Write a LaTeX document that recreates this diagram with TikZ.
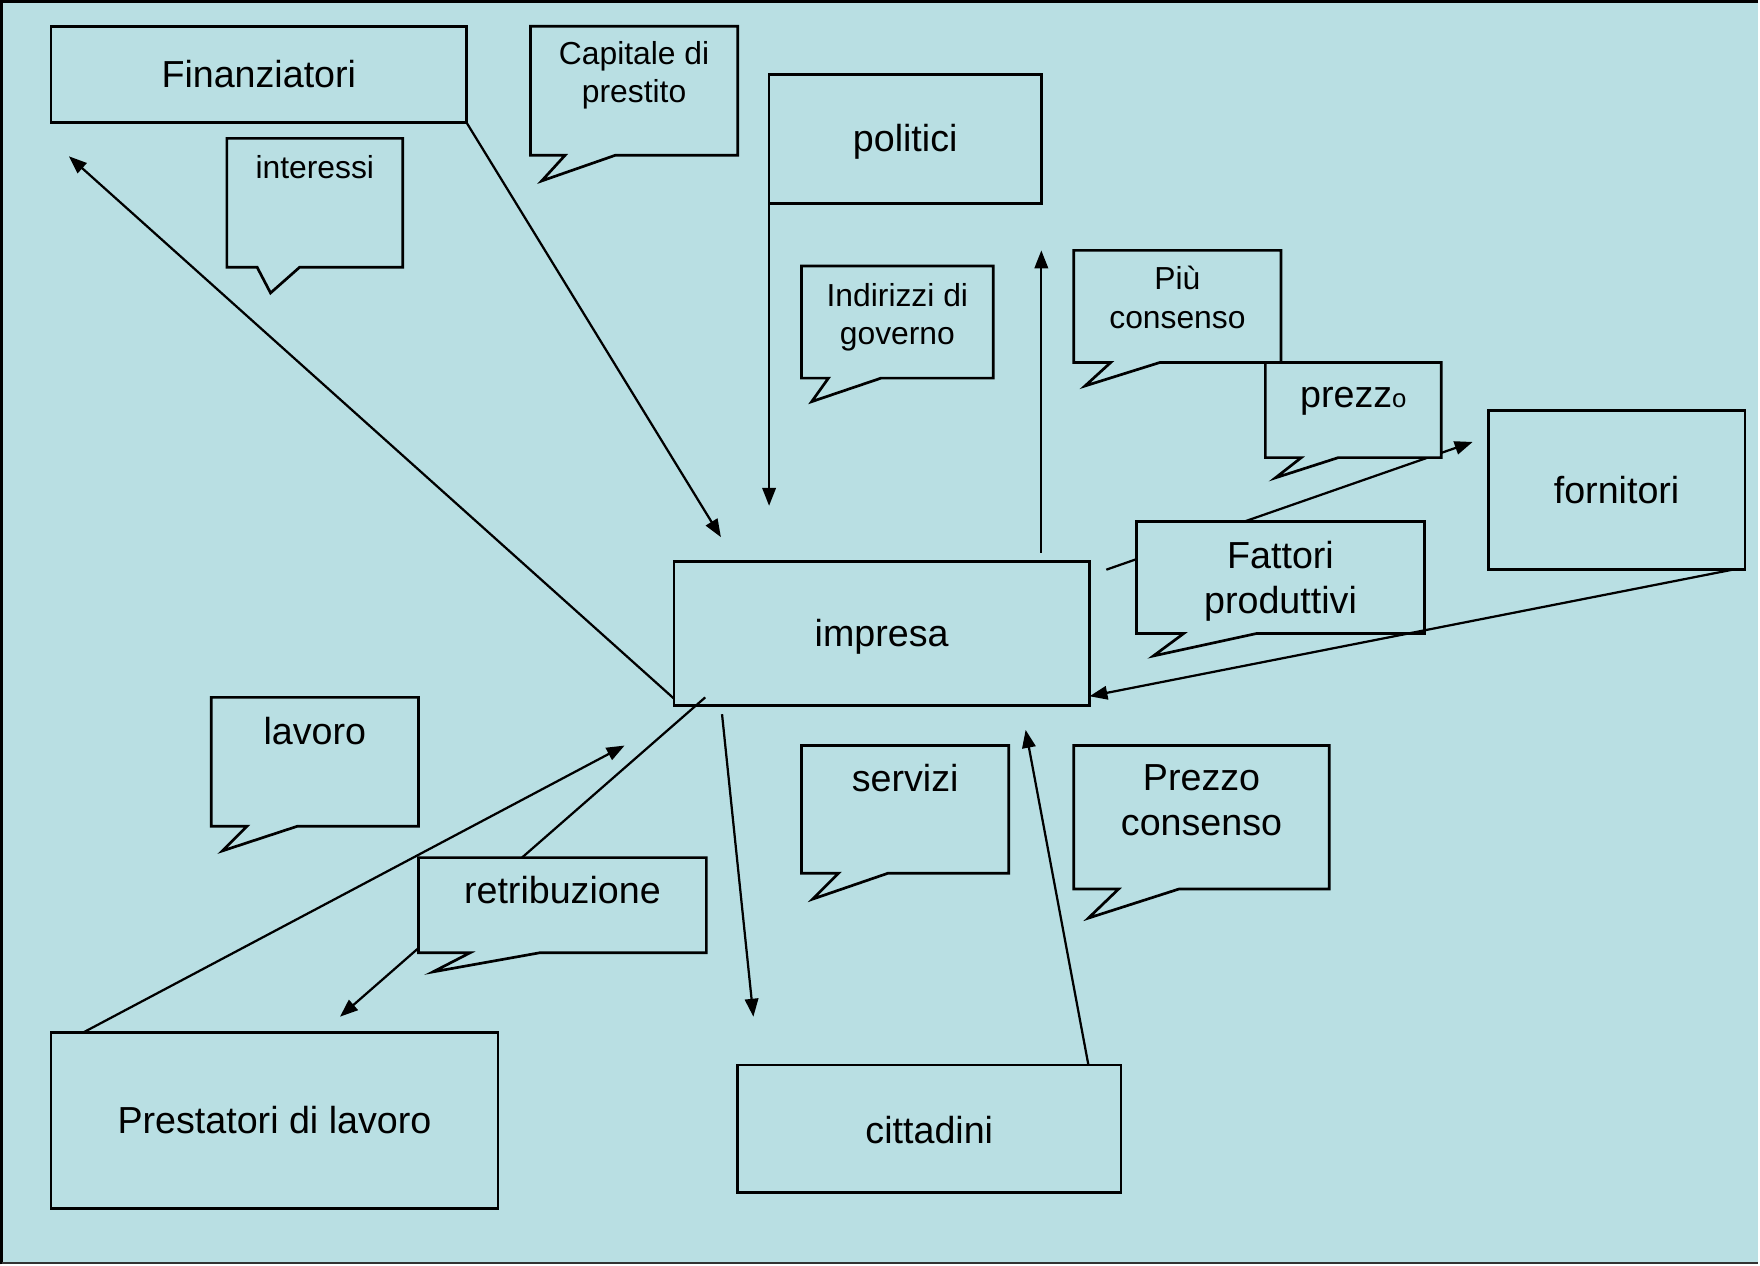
\documentclass[tikz,border=0pt]{standalone}
\usepackage{fontspec}
\setmainfont{Liberation Sans}
\usetikzlibrary{calc,arrows.meta}
\pgfdeclarelayer{back}
\pgfdeclarelayer{under}
\pgfsetlayers{back,under,main}
\definecolor{bgblue}{RGB}{185,223,227}
\tikzset{
  box/.style={draw, line width=1.2pt, fill=bgblue, inner sep=0pt, outer sep=0pt},
  cbox/.style={fill=bgblue, inner sep=0pt, outer sep=0pt},
  cline/.style={draw, line width=1.2pt, fill=bgblue, line join=miter},
  big/.style={font=\fontsize{16.8}{20}\selectfont, align=center},
  small/.style={font=\fontsize{14.2}{17}\selectfont, align=center, inner sep=0pt},
  bigt/.style={font=\fontsize{16.8}{20}\selectfont, align=center, inner sep=0pt},
  arr/.style={line width=1pt, -{Triangle[length=8pt,width=6pt]}},
}
\newcommand{\mycallout}[5]{%
  \draw[cline] (#1.north west) -- (#1.north east) -- (#1.south east)
    -- ($(#1.south west)+(#3,0)$) -- ($(#1.south west)+(#4,#5)$)
    -- ($(#1.south west)+(#2,0)$) -- (#1.south west) -- cycle;}
\begin{document}
\begin{tikzpicture}[x=0.5pt,y=-0.5pt]
\begin{pgfonlayer}{back}
  \fill[bgblue] (0,0) rectangle (1568,1127);
  \draw[line width=1.5pt] (0,1127) -- (0,0) -- (1568,0);
  \draw[line width=0.8pt, black!80] (0,1126) -- (1568,1126);
\end{pgfonlayer}
\useasboundingbox (0,0) rectangle (1568,1127);

% main boxes
\node[box,big,minimum width=185.5pt,minimum height=43pt] (fin) at (229.5,65) {Finanziatori};
\node[box,big,text height=14.5pt,minimum width=121.5pt,minimum height=57.5pt] (pol) at (806.5,122.5) {politici};
\node[box,big,minimum width=114.5pt,minimum height=71pt] (forn) at (1441.5,436) {fornitori};
\node[box,big,text height=15pt,minimum width=185.5pt,minimum height=64pt] (imp) at (785.5,564) {impresa};
\node[box,big,minimum width=199.5pt,minimum height=78.5pt] (prest) at (243.5,998.5) {Prestatori di lavoro};
\node[box,big,text height=13.8pt,minimum width=171pt,minimum height=57pt] (citt) at (828,1006) {cittadini};

% free arrow ends
\coordinate (tA) at (60,138);
\coordinate (tB) at (642,478);
\coordinate (tC) at (685,450);
\coordinate (tD) at (928,222);
\coordinate (tE) at (1313,393);
\coordinate (tG) at (302,906);
\coordinate (tH) at (556,664);
\coordinate (tI) at (671,906);
\coordinate (tJ) at (914,650);

% connector partly hidden behind the "retribuzione" callout
\draw[arr] ($(imp.south west)+(28,-7)$) -- (tG);

% callouts
\node[cbox,minimum width=92.5pt,minimum height=57.5pt] (cap) at (564.5,79.5) {};
\mycallout{cap}{31}{76}{10}{23}
\node[small] (capT) at (564.5,66) {Capitale di\\prestito};

\node[cbox,minimum width=78.5pt,minimum height=57.5pt] (int) at (279.5,179.5) {};
\mycallout{int}{27}{65}{39}{23}
\node[small] (intT) at (279.5,148) {interessi};

\node[cbox,minimum width=85.5pt,minimum height=50pt] (ind) at (799.5,286) {};
\mycallout{ind}{24}{71}{9}{21}
\node[small] (indT) at (799.5,282) {Indirizzi di\\governo};

\node[cbox,minimum width=92.5pt,minimum height=50pt] (piu) at (1049.5,272) {};
\mycallout{piu}{33}{77}{10}{21}
\node[small] (piuT) at (1049.5,264) {Più\\consenso};

\node[cbox,minimum width=78.5pt,minimum height=42.5pt] (prz) at (1206.5,364.5) {};
\mycallout{prz}{32}{65}{9}{18}
\node[bigt] (przT) at (1206.5,357) {prezz{\fontsize{11.5}{11.5}\selectfont o}};

% connector hidden behind "Fattori produttivi" and "prezzo"
\begin{pgfonlayer}{under}
  \draw[arr] ($(imp.north east)+(15,7)$) -- (tE);
\end{pgfonlayer}

\node[cbox,minimum width=128.5pt,minimum height=50pt] (fat) at (1141.5,514) {};
\mycallout{fat}{42}{107}{15}{20}
\node[bigt] (fatT) at (1141.5,517) {Fattori\\produttivi};

\node[cbox,minimum width=92.5pt,minimum height=57.5pt] (lav) at (279.5,678.5) {};
\mycallout{lav}{32}{77}{10}{22}
\node[bigt] (lavT) at (279.5,651) {lavoro};

\node[cbox,minimum width=92.5pt,minimum height=57pt] (serv) at (806.5,721) {};
\mycallout{serv}{33}{77}{10}{23}
\node[bigt] (servT) at (806.5,693) {servizi};

\node[cbox,minimum width=114pt,minimum height=64pt] (pc) at (1071,728) {};
\mycallout{pc}{40}{94}{13}{26}
\node[bigt] (pcT) at (1071,713) {Prezzo\\consenso};

\node[cbox,minimum width=128.5pt,minimum height=42.5pt] (retr) at (500.5,806.5) {};
\mycallout{retr}{46}{108}{13}{17}
\node[bigt] (retrT) at (500.5,793) {retribuzione};

% connectors on top
\draw[arr] ($(imp.south west)+(0,-6)$) -- (tA);
\draw[arr] (fin.south east) -- (tB);
\draw[arr] (pol.south west) -- (tC);
\draw[arr] ($(imp.north east)+(-43,-8)$) -- (tD);
\draw[arr] ($(forn.south east)+(-11,0)$) -- ($(imp.south east)+(0,-8)$);
\draw[arr] ($(prest.north west)+(29,0)$) -- (tH);
\draw[arr] ($(imp.south west)+(43,8)$) -- (tI);
\draw[arr] ($(citt.north east)+(-29,0)$) -- (tJ);
\end{tikzpicture}
\end{document}
